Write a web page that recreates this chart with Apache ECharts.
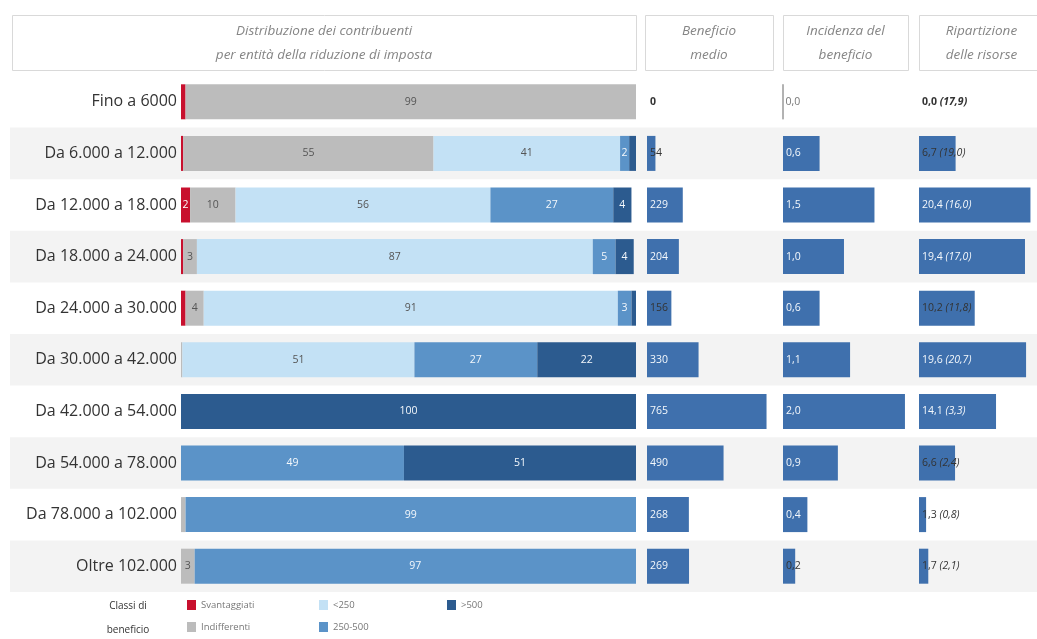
<!DOCTYPE html>
<html><head><meta charset="utf-8">
<script src="https://cdn.jsdelivr.net/npm/echarts@6/dist/echarts.min.js"></script>
<style>html,body{margin:0;padding:0;background:#fff}#c{width:1037px;height:639px}</style>
</head><body><div id="c"></div>
<script>
const categories = ['Fino a 6000','Da 6.000 a 12.000','Da 12.000 a 18.000','Da 18.000 a 24.000','Da 24.000 a 30.000','Da 30.000 a 42.000','Da 42.000 a 54.000','Da 54.000 a 78.000','Da 78.000 a 102.000','Oltre 102.000'];
const classNames = ['Svantaggiati','Indifferenti','<250','250-500','>500'];
const svantaggiati = [1, 0.5, 2, 0.5, 1, 0, 0, 0, 0, 0];
const indifferenti = [99, 55, 10, 3, 4, 0.3, 0, 0, 1, 3];
const meno250 = [0, 41, 56, 87, 91, 51, 0, 0, 0, 0];
const da250a500 = [0, 2, 27, 5, 3, 27, 0, 49, 99, 97];
const oltre500 = [0, 1.5, 4, 4, 1, 22, 100, 51, 0, 0];
const beneficioMedio = [0, 54, 229, 204, 156, 330, 765, 490, 268, 269];
const incidenza = [0.0, 0.6, 1.5, 1.0, 0.6, 1.1, 2.0, 0.9, 0.4, 0.2];
const ripartizione = [0.0, 6.7, 20.4, 19.4, 10.2, 19.6, 14.1, 6.6, 1.3, 1.7];
const ripartizioneTra = [17.9, 19.0, 16.0, 17.0, 11.8, 20.7, 3.3, 2.4, 0.8, 2.1];

const classColors = ['#c8102e', '#bcbcbc', '#c3e1f5', '#5b93c8', '#2c5b8f'];
const classLabelColors = ['#fff', '#555', '#555', '#f4f8fc', '#f4f8fc'];
const panelColor = '#3f70ad';
const fmt1 = v => v.toFixed(1).replace('.', ',');
const FONT = '"Open Sans", Lato, sans-serif';

const TOP = 76, H = 516;
const classData = [svantaggiati, indifferenti, meno250, da250a500, oltre500];

const grids = [
  {left: 10, right: 0, top: TOP, height: H},
  {left: 181, width: 455, top: TOP, height: H},
  {left: 647, width: 125, top: TOP, height: H},
  {left: 783, width: 125, top: TOP, height: H},
  {left: 919, width: 125, top: TOP, height: H}
];
const xMax = [1, 100, 800, 2.05, 21.6];
const xAxes = grids.map((g, i) => ({gridIndex: i, type: 'value', min: 0, max: xMax[i], show: false}));
const yAxes = grids.map((g, i) => ({
  gridIndex: i, type: 'category', data: categories, inverse: true,
  axisLine: {show: false}, axisTick: {show: false},
  axisLabel: i === 1 ? {show: true, fontFamily: FONT, fontSize: 16, color: '#333', margin: 4} : {show: false},
  splitArea: i === 0 ? {show: true, areaStyle: {color: ['rgba(255,255,255,0)', '#f3f3f3']}} : {show: false}
}));

const series = [];
classNames.forEach((name, k) => {
  series.push({
    name, type: 'bar', stack: 'dist', xAxisIndex: 1, yAxisIndex: 1,
    barWidth: 35, itemStyle: {color: classColors[k]},
    label: {
      show: true, position: 'inside', fontFamily: FONT, fontSize: 10.5, color: classLabelColors[k],
      formatter: p => p.value >= 2 ? String(Math.round(p.value)) : ''
    },
    data: classData[k]
  });
});
series.push({
  name: 'Beneficio medio', type: 'bar', xAxisIndex: 2, yAxisIndex: 2, barWidth: 35,
  itemStyle: {color: panelColor},
  data: beneficioMedio.map(v => ({value: v, label: {color: v >= 200 ? '#f4f8fc' : '#333', fontWeight: v === 0 ? 'bold' : 'normal'}})),
  label: {show: true, position: 'insideLeft', distance: 3, fontFamily: FONT, fontSize: 10.5, formatter: p => String(p.value)}
});
series.push({
  name: 'Incidenza', type: 'bar', xAxisIndex: 3, yAxisIndex: 3, barWidth: 35,
  itemStyle: {color: panelColor},
  data: incidenza.map(v => ({value: v,
    itemStyle: v === 0 ? {borderColor: '#999', borderWidth: 1} : {},
    label: {color: v >= 0.4 ? '#f4f8fc' : (v === 0 ? '#777' : '#333')}})),
  label: {show: true, position: 'insideLeft', distance: 3, fontFamily: FONT, fontSize: 10.5, formatter: p => fmt1(p.value)}
});
series.push({
  name: 'Ripartizione', type: 'bar', xAxisIndex: 4, yAxisIndex: 4, barWidth: 35,
  itemStyle: {color: panelColor},
  data: ripartizione.map((v, i) => ({value: v,
    label: {color: v >= 14 ? '#f4f8fc' : '#333', fontWeight: v === 0 ? 'bold' : 'normal'}})),
  label: {show: true, position: 'insideLeft', distance: 3, fontFamily: FONT, fontSize: 10.5,
    formatter: p => fmt1(p.value) + ' {i|(' + fmt1(ripartizioneTra[p.dataIndex]) + ')}',
    rich: {i: {fontStyle: 'italic', fontFamily: FONT, fontSize: 10.5}}}
});

function headerBox(x, w, lines) {
  const ts = {fontFamily: FONT, fontStyle: 'italic', fontSize: 13.5, fill: '#858585', textAlign: 'center', textVerticalAlign: 'middle'};
  return [
    {type: 'rect', shape: {x: x + 0.5, y: 15.5, width: w, height: 55}, style: {fill: '#fff', stroke: '#d9d9d9', lineWidth: 1}},
    {type: 'text', x: x + w / 2, y: 31, style: Object.assign({text: lines[0]}, ts)},
    {type: 'text', x: x + w / 2, y: 55, style: Object.assign({text: lines[1]}, ts)}
  ];
}

const legendCommon = {orient: 'vertical', itemWidth: 9, itemHeight: 10, itemGap: 12, icon: 'rect', padding: 0,
  textStyle: {fontFamily: FONT, fontSize: 9.5, color: '#777'}, top: 600, selectedMode: false};

const option = {
  animation: false,
  grid: grids,
  xAxis: xAxes,
  yAxis: yAxes,
  series,
  legend: [
    Object.assign({}, legendCommon, {left: 187, data: ['Svantaggiati', 'Indifferenti']}),
    Object.assign({}, legendCommon, {left: 319, data: ['<250', '250-500']}),
    Object.assign({}, legendCommon, {left: 447, data: ['>500']})
  ],
  graphic: [
    ...headerBox(12, 624, ['Distribuzione dei contribuenti', 'per entità della riduzione di imposta']),
    ...headerBox(645, 128, ['Beneficio', 'medio']),
    ...headerBox(783, 125, ['Incidenza del', 'beneficio']),
    ...headerBox(919, 125, ['Ripartizione', 'delle risorse']),
    {type: 'text', x: 128, y: 606, style: {text: 'Classi di', fontFamily: FONT, fontSize: 10, fill: '#333', textAlign: 'center', textVerticalAlign: 'middle'}},
    {type: 'text', x: 128, y: 630, style: {text: 'beneficio', fontFamily: FONT, fontSize: 10, fill: '#333', textAlign: 'center', textVerticalAlign: 'middle'}}
  ]
};
echarts.init(document.getElementById('c'), null, {renderer: 'canvas'}).setOption(option);
</script></body></html>
